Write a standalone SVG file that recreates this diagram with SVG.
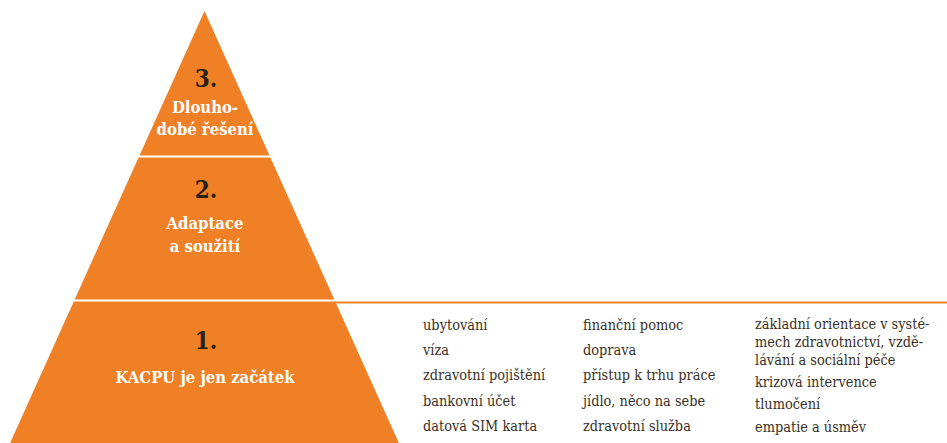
<svg xmlns="http://www.w3.org/2000/svg" width="947" height="443" viewBox="0 0 947 443">
<style>
.layer{fill:#F08026}
.num{font-family:"DejaVu Serif Condensed","DejaVu Serif","Liberation Serif",serif;font-weight:bold;font-size:24px;fill:#2a2115;text-anchor:middle}
.lbl{font-family:"DejaVu Serif Condensed","DejaVu Serif","Liberation Serif",serif;font-weight:bold;font-size:16.5px;fill:#ffffff;text-anchor:middle}
.item{font-family:"DejaVu Serif Condensed","DejaVu Serif","Liberation Serif",serif;font-size:14.4px;fill:#3a3026}
</style>
<rect width="947" height="443" fill="#ffffff"/>
<g id="layer3">
<polygon class="layer" points="204.5,11 139.5,155.5 269.5,155.5"/>
<text class="num" x="206" y="87">3.</text>
<text class="lbl" x="205" y="113">Dlouho-</text>
<text class="lbl" x="205" y="135">dobé řešení</text>
</g>
<g id="layer2">
<polygon class="layer" points="138.6,157.5 270.4,157.5 334.3,299.5 74.7,299.5"/>
<text class="num" x="206" y="198">2.</text>
<text class="lbl" x="205" y="229">Adaptace</text>
<text class="lbl" x="205" y="252">a soužití</text>
</g>
<g id="layer1">
<polygon class="layer" points="73.8,301.5 335.2,301.5 398.9,443 10.1,443"/>
<text class="num" x="206" y="349">1.</text>
<text class="lbl" x="205" y="383">KACPU je jen začátek</text>
</g>
<g id="connectors">
<line x1="335" y1="302.5" x2="947" y2="302.5" stroke="#F08026" stroke-width="1.8"/>
</g>
<g id="list1">
<text class="item" x="423" y="329.5">ubytování</text>
<text class="item" x="423" y="355">víza</text>
<text class="item" x="423" y="380">zdravotní pojištění</text>
<text class="item" x="423" y="405.5">bankovní účet</text>
<text class="item" x="423" y="431">datová SIM karta</text>
</g>
<g id="list2">
<text class="item" x="583" y="329.5">finanční pomoc</text>
<text class="item" x="583" y="355">doprava</text>
<text class="item" x="583" y="380">přístup k trhu práce</text>
<text class="item" x="583" y="405.5">jídlo, něco na sebe</text>
<text class="item" x="583" y="431">zdravotní služba</text>
</g>
<g id="list3">
<text class="item" x="755" y="329">základní orientace v systé-</text>
<text class="item" x="755" y="346.5">mech zdravotnictví, vzdě-</text>
<text class="item" x="755" y="364.5">lávání a sociální péče</text>
<text class="item" x="755" y="386.5">krizová intervence</text>
<text class="item" x="755" y="409">tlumočení</text>
<text class="item" x="755" y="431.5">empatie a úsměv</text>
</g>
</svg>
